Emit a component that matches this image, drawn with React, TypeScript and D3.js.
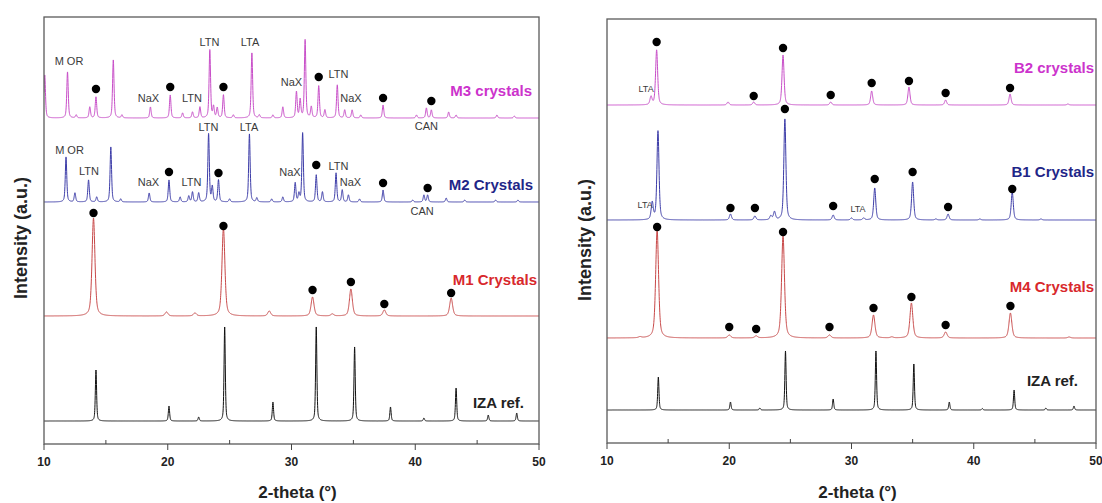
import React from "react";
import * as d3 from "d3";

// ---------- data ----------
const xTicks = [10, 20, 30, 40, 50];
const xMinorTicks = [15, 25, 35, 45];
const xTitle = "2-theta (°)";
const yTitle = "Intensity (a.u.)";

// peaks: [2-theta, intensity above the pattern's own baseline]
const izaLeftPeaks: [number, number][] = [
  [14.2, 51], [20.1, 15], [22.5, 4], [24.6, 94], [28.5, 19], [32.0, 94],
  [35.1, 74], [38.0, 14], [40.7, 3], [43.3, 33], [45.9, 6], [48.2, 8],
];
const m1Peaks: [number, number][] = [
  [14.0, 98], [19.9, 4], [22.2, 3], [24.5, 88], [28.2, 5], [31.7, 19],
  [33.3, 2], [34.8, 27], [37.5, 6], [42.9, 18],
];
const m2Peaks: [number, number][] = [
  [11.78, 45], [12.5, 9], [13.6, 22], [14.26, 5], [15.4, 55], [16.2, 3], [18.5, 9],
  [20.1, 22], [21.0, 5], [21.7, 6], [22.0, 10], [22.5, 9], [23.3, 68],
  [23.6, 15], [24.1, 22], [25.0, 3], [26.6, 68], [27.2, 4], [28.4, 3], [29.3, 5],
  [30.3, 19], [30.6, 8], [30.9, 69], [32.0, 27], [32.5, 10], [33.6, 29],
  [34.1, 12], [34.6, 7], [35.5, 3], [37.4, 12], [39.8, 2], [40.7, 7], [41.0, 7],
  [42.5, 4], [44.0, 2], [46.5, 2], [48.3, 2],
];
const m3Peaks: [number, number][] = [
  [10.06, 43], [11.9, 46], [12.6, 3], [13.7, 11], [14.2, 21], [15.6, 58],
  [16.3, 3], [18.6, 11], [20.2, 23], [21.2, 5], [22.0, 6], [22.6, 11], [23.4, 68],
  [23.7, 11], [24.0, 10], [24.5, 23], [25.3, 3], [26.8, 65], [27.4, 3], [28.5, 3],
  [29.3, 11], [30.4, 26], [30.7, 18], [31.1, 78], [31.6, 11], [32.2, 32],
  [32.7, 8], [33.7, 33], [34.3, 8], [34.9, 8], [35.6, 3], [37.4, 13],
  [40.1, 3], [40.9, 10], [41.3, 8], [42.7, 6], [43.3, 3], [46.6, 3], [48.0, 2],
];

const izaRightPeaks: [number, number][] = [
  [14.2, 33], [20.1, 8], [22.5, 2], [24.6, 59], [28.5, 11], [32.0, 59],
  [35.1, 46], [38.0, 8], [40.7, 1.5], [43.3, 20], [45.9, 2], [48.2, 4],
];
const m4Peaks: [number, number][] = [
  [12.7, 1], [14.1, 108], [20.0, 3], [22.2, 2], [24.4, 102], [28.2, 3],
  [31.8, 23], [33.3, 1], [34.9, 35], [37.7, 6], [43.0, 25], [47.8, 1],
];
const b1Peaks: [number, number][] = [
  [13.7, 17], [14.17, 89], [20.1, 6], [22.1, 4], [23.4, 4], [23.7, 8],
  [24.55, 101], [28.5, 5], [30.0, 2], [31.0, 2], [31.9, 32], [35.0, 38],
  [36.9, 1], [37.9, 6], [40.5, 1], [43.15, 28], [45.5, 1],
];
const b2Peaks: [number, number][] = [
  [13.6, 8], [14.06, 55], [19.9, 3], [22.0, 3], [24.4, 50], [28.3, 3],
  [31.65, 14], [34.7, 18], [37.7, 5], [42.97, 11], [47.7, 1],
];

// dot markers: [2-theta, height above baseline]
const m1Dots: [number, number][] = [[14.0, 103], [24.5, 90], [31.7, 26], [34.8, 34], [37.5, 12], [42.9, 23]];
const m2Dots: [number, number][] = [[20.1, 30], [24.1, 29], [32.0, 37], [37.4, 19], [41.0, 14]];
const m3Dots: [number, number][] = [[14.2, 29], [20.2, 31], [24.5, 31], [32.2, 41], [37.4, 20], [41.3, 17]];
const m4Dots: [number, number][] = [[14.1, 111], [20.0, 11], [22.2, 9], [24.4, 106], [28.2, 11], [31.8, 30], [34.9, 41], [37.7, 13], [43.0, 32]];
const b1Dots: [number, number][] = [[20.1, 12], [22.1, 12], [24.55, 111], [28.5, 14], [31.9, 41], [35.0, 48], [37.9, 13], [43.15, 31]];
const b2Dots: [number, number][] = [[14.06, 63], [22.0, 9], [24.4, 57], [28.3, 10], [31.65, 22], [34.7, 24], [37.7, 12], [42.97, 17]];

// phase annotations: [text, 2-theta, intensity]
const leftNotes: [string, number, number][] = [
  ["M OR", 12.02, 382], ["NaX", 18.44, 345], ["LTN", 21.96, 345], ["LTN", 23.37, 401],
  ["LTA", 26.65, 401], ["NaX", 30.0, 361], ["LTN", 33.8, 369], ["NaX", 34.8, 345],
  ["CAN", 40.9, 317],
  ["M OR", 12.06, 293], ["LTN", 13.64, 272], ["NaX", 18.44, 261], ["LTN", 21.92, 261],
  ["LTN", 23.29, 316], ["LTA", 26.57, 316], ["NaX", 29.88, 271], ["LTN", 33.8, 277],
  ["NaX", 34.77, 261], ["CAN", 40.55, 232],
];
const rightNotes: [string, number, number][] = [
  ["LTA", 13.2, 353], ["LTA", 13.12, 237], ["LTA", 30.53, 233],
];

// ---------- drawing ----------
const FONT = "'Liberation Sans', Arial, Helvetica, sans-serif";

type Series = {
  peaks: [number, number][];
  offset: number;
  width: number;
  color: string;
  dots?: [number, number][];
  label: string;
  labelColor: string;
  labelX: number;
  labelY: number;
};

function profile(peaks: [number, number][], w: number, x: number) {
  let s = 0;
  for (const [p, h] of peaks) {
    const d = (x - p) / w;
    const d2 = d * d;
    if (d2 > 4000) continue;
    s += h * (0.5 / (1 + d2) + 0.5 * Math.exp(-0.6931 * d2));
  }
  return s;
}

function samples(peaks: [number, number][]) {
  const xs: number[] = d3.range(10, 50.0001, 0.01);
  peaks.forEach(([p]) => xs.push(p));
  return xs.sort((a, b) => a - b);
}

type PanelProps = {
  left: number;
  right: number;
  top: number;
  bottom: number;
  series: Series[];
  notes: [string, number, number][];
  noteSize: number;
  yTitleX: number;
  yTitleY: number;
  id: string;
};

function Panel(p: PanelProps) {
  const x = d3.scaleLinear().domain([10, 50]).range([p.left, p.right]);
  const y = d3.scaleLinear().domain([0, p.bottom - p.top]).range([p.bottom, p.top]);
  return (
    <g>
      <defs>
        <clipPath id={p.id}>
          <rect x={p.left} y={p.top} width={p.right - p.left} height={p.bottom - p.top} />
        </clipPath>
      </defs>
      <g clipPath={`url(#${p.id})`}>
        {p.series.map((s, i) => {
          const line = d3
            .line<number>()
            .x((v) => x(v))
            .y((v) => y(s.offset + profile(s.peaks, s.width, v)));
          return (
            <path key={i} d={line(samples(s.peaks)) || ""} fill="none" stroke={s.color} strokeWidth={1} strokeLinejoin="round" />
          );
        })}
      </g>
      {p.series.map((s, i) =>
        (s.dots || []).map(([t, h], j) => (
          <circle key={`d${i}-${j}`} cx={x(t)} cy={y(s.offset + h)} r={4.2} fill="#000" />
        ))
      )}
      {p.series.map((s, i) => (
        <text key={`l${i}`} x={s.labelX} y={s.labelY} textAnchor="end" dominantBaseline="middle"
          fontFamily={FONT} fontWeight="bold" fontSize={15} fill={s.labelColor}>
          {s.label}
        </text>
      ))}
      {p.notes.map(([t, tx, ty], i) => (
        <text key={`n${i}`} x={x(tx)} y={y(ty)} textAnchor="middle" dominantBaseline="middle"
          fontFamily={FONT} fontSize={p.noteSize} fill="#3a3a3a">
          {t}
        </text>
      ))}
      <rect x={p.left} y={p.top} width={p.right - p.left} height={p.bottom - p.top} fill="none" stroke="#5a5a5a" strokeWidth={1.3} />
      {xTicks.map((t) => (
        <g key={`t${t}`}>
          <line x1={x(t)} x2={x(t)} y1={p.bottom} y2={p.bottom + 6} stroke="#444" strokeWidth={1} />
          <text x={x(t)} y={p.bottom + 22} textAnchor="middle" fontFamily={FONT} fontWeight="bold" fontSize={12} fill="#222">
            {t}
          </text>
        </g>
      ))}
      {xMinorTicks.map((t) => (
        <line key={`m${t}`} x1={x(t)} x2={x(t)} y1={p.bottom} y2={p.bottom - 4} stroke="#444" strokeWidth={1} />
      ))}
      <text x={(p.left + p.right) / 2 + 6} y={498} textAnchor="middle" fontFamily={FONT} fontWeight="bold" fontSize={17} fill="#222">
        {xTitle}
      </text>
      <text transform={`translate(${p.yTitleX},${p.yTitleY}) rotate(-90)`} textAnchor="middle" dominantBaseline="middle"
        fontFamily={FONT} fontWeight="bold" fontSize={18} fill="#222">
        {yTitle}
      </text>
    </g>
  );
}

export default function App() {
  const leftSeries: Series[] = [
    { peaks: izaLeftPeaks, offset: 23, width: 0.06, color: "#111", label: "IZA ref.", labelColor: "#222", labelX: 524, labelY: 404 },
    { peaks: m1Peaks, offset: 128, width: 0.14, color: "#c84848", dots: m1Dots, label: "M1 Crystals", labelColor: "#d8282c", labelX: 537, labelY: 281 },
    { peaks: m2Peaks, offset: 242, width: 0.07, color: "#3c3ca8", dots: m2Dots, label: "M2 Crystals", labelColor: "#1f2688", labelX: 533, labelY: 186 },
    { peaks: m3Peaks, offset: 326, width: 0.07, color: "#c84ec8", dots: m3Dots, label: "M3 crystals", labelColor: "#cc33cc", labelX: 532, labelY: 92 },
  ];
  const rightSeries: Series[] = [
    { peaks: izaRightPeaks, offset: 33, width: 0.06, color: "#111", label: "IZA ref.", labelColor: "#222", labelX: 1078, labelY: 382 },
    { peaks: m4Peaks, offset: 105, width: 0.14, color: "#c84848", dots: m4Dots, label: "M4 Crystals", labelColor: "#d8282c", labelX: 1094, labelY: 288 },
    { peaks: b1Peaks, offset: 223, width: 0.1, color: "#3c3ca8", dots: b1Dots, label: "B1 Crystals", labelColor: "#1f2688", labelX: 1094, labelY: 173 },
    { peaks: b2Peaks, offset: 338, width: 0.1, color: "#c84ec8", dots: b2Dots, label: "B2 crystals", labelColor: "#cc33cc", labelX: 1094, labelY: 69 },
  ];
  return (
    <svg width={1102} height={503} style={{ position: "absolute", left: 0, top: 0, background: "#fff" }}>
      <rect width={1102} height={503} fill="#fff" />
      <Panel id="clipL" left={44} right={539} top={17} bottom={444} series={leftSeries} notes={leftNotes} noteSize={11}
        yTitleX={22} yTitleY={238} />
      <Panel id="clipR" left={607} right={1096} top={19} bottom={443} series={rightSeries} notes={rightNotes} noteSize={9}
        yTitleX={586} yTitleY={240} />
    </svg>
  );
}
